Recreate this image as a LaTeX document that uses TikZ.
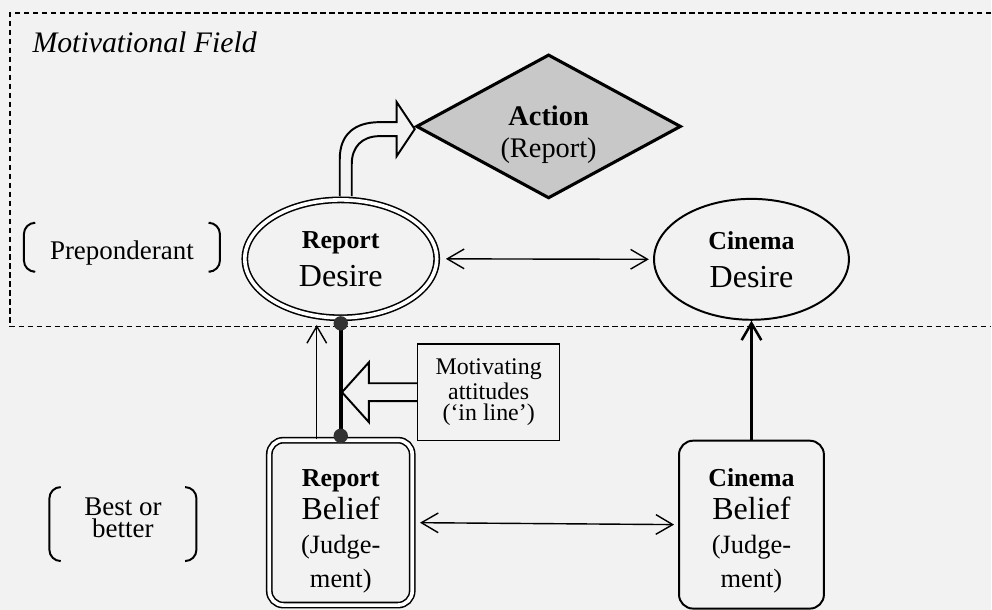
\documentclass[tikz,border=0pt]{standalone}
\usepackage{fontspec}
\setmainfont{Liberation Serif}
\usetikzlibrary{shapes.geometric,arrows.meta}
\definecolor{paper}{RGB}{242,242,242}
\definecolor{actgray}{RGB}{200,200,200}
\definecolor{dotgray}{RGB}{50,50,50}
\newcommand{\px}{0.125mm}
\newcommand{\headword}[1]{{\fontsize{9.2}{11}\selectfont\bfseries #1}}
\newcommand{\judge}[1]{{\fontsize{9.4}{11}\selectfont #1}}

\begin{document}
\begin{tikzpicture}[x=\px,y=-\px,
    >={Straight Barb[length=6pt,width=7pt]},
    desire_node/.style={ellipse,draw,line width=0.7pt,inner sep=0pt,align=center,
      minimum width=195*\px,minimum height=121*\px,font=\fontsize{11.4}{13.5}\selectfont},
    belief_node/.style={rectangle,rounded corners=5pt,draw,line width=0.7pt,inner sep=0pt,align=center,
      minimum width=145*\px,minimum height=168*\px,font=\fontsize{11.4}{12}\selectfont},
    strong_node/.style={double,double distance=1.3pt,line width=0.55pt},
    action_node/.style={diamond,draw,line width=1.1pt,fill=actgray,inner sep=0pt,align=center,
      minimum width=265*\px,minimum height=144*\px,font=\fontsize{10.1}{11.4}\selectfont},
    note_node/.style={rectangle,draw,line width=0.55pt,inner sep=0pt,align=center,
      minimum width=142*\px,minimum height=97*\px,font=\fontsize{8.5}{7.7}\selectfont},
    tag_node/.style={inner sep=0pt,align=center},
    bracket_line/.style={line width=0.7pt,rounded corners=4pt},
    field_line/.style={line width=0.5pt,dash pattern=on 2pt off 1.2pt},
    thin_link/.style={line width=0.5pt},
    block_arrow/.style={line width=0.7pt,line join=miter}]

    % page
    \fill[paper] (0,0) rectangle (992,610);
    \draw[field_line] (992,13) -- (10,13) -- (10,327) -- (992,327);
    \node[anchor=base west,inner sep=0pt,font=\fontsize{10.6}{13}\selectfont\itshape] (field) at (32,53) {Motivational Field};

    % desires, beliefs and action
    \node[desire_node,strong_node,minimum width=192*\px,minimum height=118*\px] (rdesire) at (341,259) {\headword{Report}\\Desire};
    \node[desire_node] (cdesire) at (752,259.5) {\headword{Cinema}\\Desire};
    \node[action_node] (action) at (549,126.5) {\raisebox{-5.6pt}[0pt][0pt]{\begin{tabular}{@{}c@{}}\textbf{Action}\\(Report)\end{tabular}}};
    \node[belief_node,strong_node,minimum width=143*\px,minimum height=165*\px] (rbelief) at (341,523) {\rule{0pt}{12pt}\headword{Report}\\Belief\\\judge{(Judge-}\\\judge{ment)}};
    \node[belief_node] (cbelief) at (752,525) {\rule{0pt}{10.5pt}\headword{Cinema}\\Belief\\\judge{(Judge-}\\\judge{ment)}};
    \node[note_node] (motiv) at (489,392.5) {Motivating\\attitudes\\(`in line')};

    % bracketed tags
    \node[tag_node,minimum width=195*\px,minimum height=49*\px,font=\fontsize{9.6}{11}\selectfont] (prep) at (122,248) {\rule{0pt}{10pt}Preponderant};
    \draw[bracket_line] (prep.north west) ++(9,0) -- ++(-9,0) -- ++(0,49) -- ++(9,0);
    \draw[bracket_line] (prep.north east) ++(-9,0) -- ++(9,0) -- ++(0,49) -- ++(-9,0);
    \node[tag_node,minimum width=146*\px,minimum height=74*\px,font=\fontsize{9.6}{6.4}\selectfont] (best) at (123,525) {Best or\\better\rule[-5pt]{0pt}{1pt}};
    \draw[bracket_line] (best.north west) ++(11,0) -- ++(-11,0) -- ++(0,74) -- ++(11,0);
    \draw[bracket_line] (best.north east) ++(-11,0) -- ++(11,0) -- ++(0,74) -- ++(-11,0);

    % links
    \draw[<->,thin_link,shorten <=3pt,shorten >=1.5pt] (rdesire.east) -- (cdesire.west);
    \draw[<->,thin_link,shorten <=2.5pt,shorten >=1.4pt] (rbelief.east) -- (cbelief.west);
    \draw[->,line width=0.9pt] (cbelief.north) -- (cdesire.south);
    \coordinate (dtop) at ([yshift=-0.6mm]rdesire.south);
    \coordinate (dbot) at ([yshift=0.45mm]rbelief.north);
    \coordinate (lowlink) at ([xshift=-3mm]rbelief.north);
    \coordinate (highlink) at ([xshift=-3mm,yshift=-0.2mm]dtop);
    \draw[->,thin_link] (lowlink) -- (highlink);
    \draw[line width=1.4pt] (dtop) -- (dbot);
    \fill[dotgray] (dtop) circle (0.9mm);
    \fill[dotgray] (dbot) circle (0.9mm);

    % hollow arrows
    \begin{scope}[shift={(rdesire.north)}]
        \draw[block_arrow] (-1,-3) -- (-1,-40) .. controls (-1,-65) and (14,-77) .. (39,-77)
            -- (56,-77) -- (56,-97) -- (74,-70) -- (56,-43) -- (56,-63) -- (39,-63)
            .. controls (21,-63) and (11,-52) .. (11,-35) -- (11,-3);
    \end{scope}
    \begin{scope}[shift={(motiv.west)}]
        \draw[block_arrow] (0,-9) -- (-48,-9) -- (-48,-30) -- (-75,0) -- (-48,30) -- (-48,9) -- (0,9);
    \end{scope}
\end{tikzpicture}
\end{document}
